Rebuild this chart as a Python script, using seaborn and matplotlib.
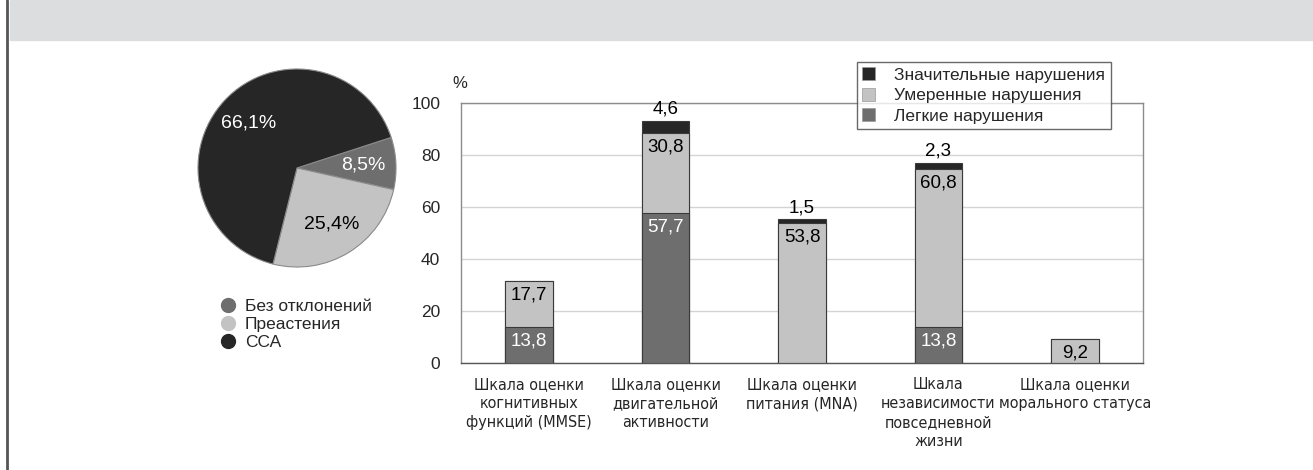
import matplotlib
matplotlib.use("Agg")
import matplotlib.pyplot as plt
from matplotlib.patches import Rectangle
from matplotlib.lines import Line2D
from matplotlib import font_manager
import pandas as pd
import seaborn as sns

# ---- data ----
pie_labels = ["Без отклонений", "Преастения", "ССА"]
pie_values = [8.5, 25.4, 66.1]

scales = [
    "Шкала оценки\nкогнитивных\nфункций (MMSE)",
    "Шкала оценки\nдвигательной\nактивности",
    "Шкала оценки\nпитания (MNA)",
    "Шкала\nнезависимости\nповседневной\nжизни",
    "Шкала оценки\nморального статуса",
]
mild = [13.8, 57.7, 0.0, 13.8, 0.0]
moderate = [17.7, 30.8, 53.8, 60.8, 9.2]
severe = [0.0, 4.6, 1.5, 2.3, 0.0]
series_names = ["Значительные нарушения", "Умеренные нарушения", "Легкие нарушения"]
yticks = [0, 20, 40, 60, 80, 100]

# ---- style ----
sns.set_theme(style="white")
plt.rcParams["font.family"] = ["Liberation Sans", "DejaVu Sans"]

BLACK = "#262626"
LIGHT = "#c3c3c3"
MID = "#6e6e6e"
EDGE = "#3a3a3a"

# condensed face for category labels, if one is available
fonts = font_manager.fontManager.ttflist
names = {f.name for f in fonts}
cond_kw = dict(family="Liberation Sans")
if "Liberation Sans Narrow" in names:
    cond_kw = dict(family="Liberation Sans Narrow")
elif any(f.name == "DejaVu Sans" and f.stretch in ("condensed", 300) for f in fonts):
    cond_kw = dict(family="DejaVu Sans", fontstretch="condensed")


def fmt(v):
    return f"{v:.1f}".replace(".", ",")


W, H = 1313, 470
fig = plt.figure(figsize=(W / 100, H / 100), dpi=100)

# header band and left rule
fig.patches.append(Rectangle((10 / W, 1 - 40 / H), 1 - 10 / W, 40 / H,
                             transform=fig.transFigure, color="#dcdddf", zorder=0))
fig.lines.append(Line2D([7 / W, 7 / W], [0, 1], transform=fig.transFigure,
                        color="#555555", lw=2))

# ---- pie ----
pax = fig.add_axes([197 / W, (H - 268) / H, 200 / W, 200 / H])
pie_colors = [MID, LIGHT, BLACK]
wedges, texts, autotexts = pax.pie(
    pie_values, colors=pie_colors, startangle=18, counterclock=False,
    autopct=lambda p: fmt(p) + "%", pctdistance=0.67,
    wedgeprops=dict(edgecolor="#8a8a8a", linewidth=0.8),
    textprops=dict(fontsize=14),
)
for t, c in zip(autotexts, ["white", "black", "white"]):
    t.set_color(c)
pax.set_xlim(-1.01, 1.01)
pax.set_ylim(-1.01, 1.01)
pax.set_aspect("equal")

handles = [Line2D([], [], marker="o", ls="", markersize=10, markerfacecolor=c,
                  markeredgecolor=c) for c in pie_colors]
fig.legend(handles, pie_labels, loc="upper left",
           bbox_to_anchor=(211 / W, 1 - 292 / H), frameon=False,
           fontsize=12.5, handletextpad=0.35, labelspacing=0.15,
           handlelength=1.2, borderaxespad=0)

# ---- stacked bars ----
bax = fig.add_axes([461 / W, (H - 363) / H, 682 / W, 260 / H])
df = pd.DataFrame({"scale": scales, "mild": mild, "moderate": moderate, "severe": severe})
df["lvl2"] = df["mild"] + df["moderate"]
df["total"] = df["lvl2"] + df["severe"]

for col, c in [("total", BLACK), ("lvl2", LIGHT), ("mild", MID)]:
    sns.barplot(data=df, x="scale", y=col, color=c, width=0.35,
                edgecolor=EDGE, linewidth=0.8, saturation=1, ax=bax, zorder=3)

bax.set_ylim(0, 100)
bax.set_xlim(-0.5, 4.5)
bax.set_yticks(yticks)
bax.set_yticklabels([str(v) for v in yticks], fontsize=12.5)
bax.set_xlabel("")
bax.set_ylabel("")
bax.yaxis.grid(True, color="#d4d4d4", lw=1)
bax.set_axisbelow(True)
for s in bax.spines.values():
    s.set_visible(True)
    s.set_color("#8c8c8c")
    s.set_linewidth(1)
bax.spines["bottom"].set_color("#555555")
bax.tick_params(axis="y", length=0, pad=15)
bax.tick_params(axis="x", length=0, pad=10)
bax.set_xticks(range(len(scales)))
bax.set_xticklabels(scales, fontsize=11.5, linespacing=1.35, va="top", **cond_kw)
bax.text(-0.012, 1.075, "%", transform=bax.transAxes, fontsize=12, ha="left", va="center")

off = 5.5
for i, r in df.iterrows():
    if r["mild"] > 0:
        bax.text(i, r["mild"] - off, fmt(r["mild"]), ha="center", va="center",
                 fontsize=13.5, color="white", zorder=5)
    if r["moderate"] > 0:
        bax.text(i, r["lvl2"] - off, fmt(r["moderate"]), ha="center", va="center",
                 fontsize=13.5, color="black", zorder=5)
    if r["severe"] > 0:
        bax.text(i, r["total"] + 4.5, fmt(r["severe"]), ha="center", va="center",
                 fontsize=13.5, color="black", zorder=5)

leg_handles = [Rectangle((0, 0), 1, 1, facecolor=c, edgecolor="#999999", lw=0.5)
               for c in [BLACK, LIGHT, MID]]
leg = fig.legend(leg_handles, series_names, loc="upper left",
                 bbox_to_anchor=(857 / W, 1 - 62 / H), fontsize=12.5,
                 frameon=True, fancybox=False, handlelength=0.75, handleheight=0.75,
                 handletextpad=1.1, labelspacing=0.3, borderpad=0.3,
                 borderaxespad=0)
leg.get_frame().set_edgecolor("#444444")
leg.get_frame().set_linewidth(1)
leg.get_frame().set_facecolor("white")
leg.set_zorder(10)

fig.savefig("out.png", dpi=100)
